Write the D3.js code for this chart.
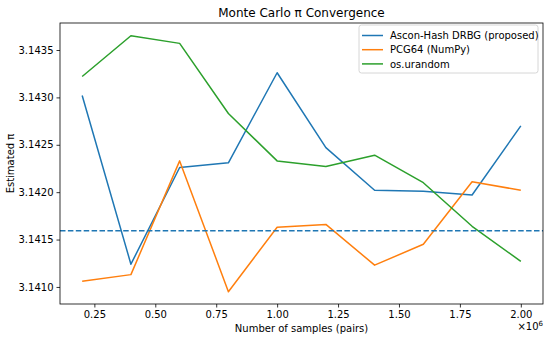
<!DOCTYPE html>
<html><head><meta charset="utf-8">
<script src="https://cdn.jsdelivr.net/npm/d3@7"></script>
<style>body{margin:0;background:#fff}svg{display:block;font-family:"DejaVu Sans",sans-serif}</style>
</head><body><svg id="c" width="550" height="338"></svg>
<script>
const samples = [0.2e6,0.4e6,0.6e6,0.8e6,1.0e6,1.2e6,1.4e6,1.6e6,1.8e6,2.0e6];
const ascon = [3.14302,3.14124,3.14226,3.14231,3.14326,3.14247,3.14202,3.14201,3.14197,3.14270];
const pcg64 = [3.14106,3.14113,3.14233,3.14095,3.14163,3.14166,3.14123,3.14145,3.14211,3.14202];
const urandom = [3.14322,3.14365,3.14357,3.14283,3.14233,3.14227,3.14239,3.14210,3.14164,3.14127];
const seriesNames = ["Ascon-Hash DRBG (proposed)","PCG64 (NumPy)","os.urandom"];
const colors = ["#1f77b4","#ff7f0e","#2ca02c"];
const xTicks = [0.25e6,0.5e6,0.75e6,1.0e6,1.25e6,1.5e6,1.75e6,2.0e6];
const yTicks = [3.1410,3.1415,3.1420,3.1425,3.1430,3.1435];
const refPi = Math.PI;

const svg = d3.select("#c");
const L=60,R=543,T=23,B=304;
const x = d3.scaleLinear().domain([0.109e6,2.091e6]).range([L,R]);
const y = d3.scaleLinear().domain([3.14082,3.143785]).range([B,T]);

const all=[ascon,pcg64,urandom];
const line = d3.line().x((d,i)=>x(samples[i])).y(d=>y(d));
const g = svg.append("g");
all.forEach((s,k)=>{
  g.append("path").attr("d",line(s)).attr("fill","none").attr("stroke",colors[k]).attr("stroke-width",1.5).attr("stroke-linejoin","round");
});
g.append("line").attr("x1",L).attr("x2",R).attr("y1",y(refPi)).attr("y2",y(refPi))
 .attr("stroke","#1f77b4").attr("stroke-width",1.5).attr("stroke-dasharray","5.5,2.4");

const xa = svg.append("g").attr("transform",`translate(0,${B})`)
 .call(d3.axisBottom(x).tickValues(xTicks).tickFormat(d=>(d/1e6).toFixed(2)).tickSize(3.5).tickPadding(3));
const ya = svg.append("g").attr("transform",`translate(${L},0)`)
 .call(d3.axisLeft(y).tickValues(yTicks).tickFormat(d=>d.toFixed(4)).tickSize(3.5).tickPadding(3));
[xa,ya].forEach(a=>{a.select(".domain").remove();a.selectAll("text").attr("font-size",10).attr("fill","#000").attr("font-family","DejaVu Sans");a.selectAll("line").attr("stroke","#000").attr("stroke-width",0.8);});
svg.append("rect").attr("x",L).attr("y",T).attr("width",R-L).attr("height",B-T).attr("fill","none").attr("stroke","#000").attr("stroke-width",0.8);

svg.append("text").attr("x",(L+R)/2).attr("y",17).attr("text-anchor","middle").attr("font-size",12).text("Monte Carlo π Convergence");
svg.append("text").attr("x",(L+R)/2).attr("y",332).attr("text-anchor","middle").attr("font-size",10).text("Number of samples (pairs)");
svg.append("text").attr("transform",`translate(14,${(T+B)/2}) rotate(-90)`).attr("text-anchor","middle").attr("font-size",10).text("Estimated π");
const sci = svg.append("text").attr("x",R).attr("y",330).attr("text-anchor","end").attr("font-size",10);
sci.append("tspan").text("×10");
sci.append("tspan").attr("dy",-4).attr("font-size",7).text("6");

const lg = svg.append("g");
lg.append("rect").attr("x",359).attr("y",25).attr("width",179).attr("height",48).attr("rx",2.5).attr("fill","#fff").attr("fill-opacity",0.8).attr("stroke","#ccc").attr("stroke-width",0.8);
seriesNames.forEach((n,k)=>{
  const yy=35.5+k*14.2;
  lg.append("line").attr("x1",362).attr("x2",383).attr("y1",yy).attr("y2",yy).attr("stroke",colors[k]).attr("stroke-width",1.5);
  lg.append("text").attr("x",390).attr("y",yy+3.6).attr("font-size",10).text(n);
});
</script></body></html>
